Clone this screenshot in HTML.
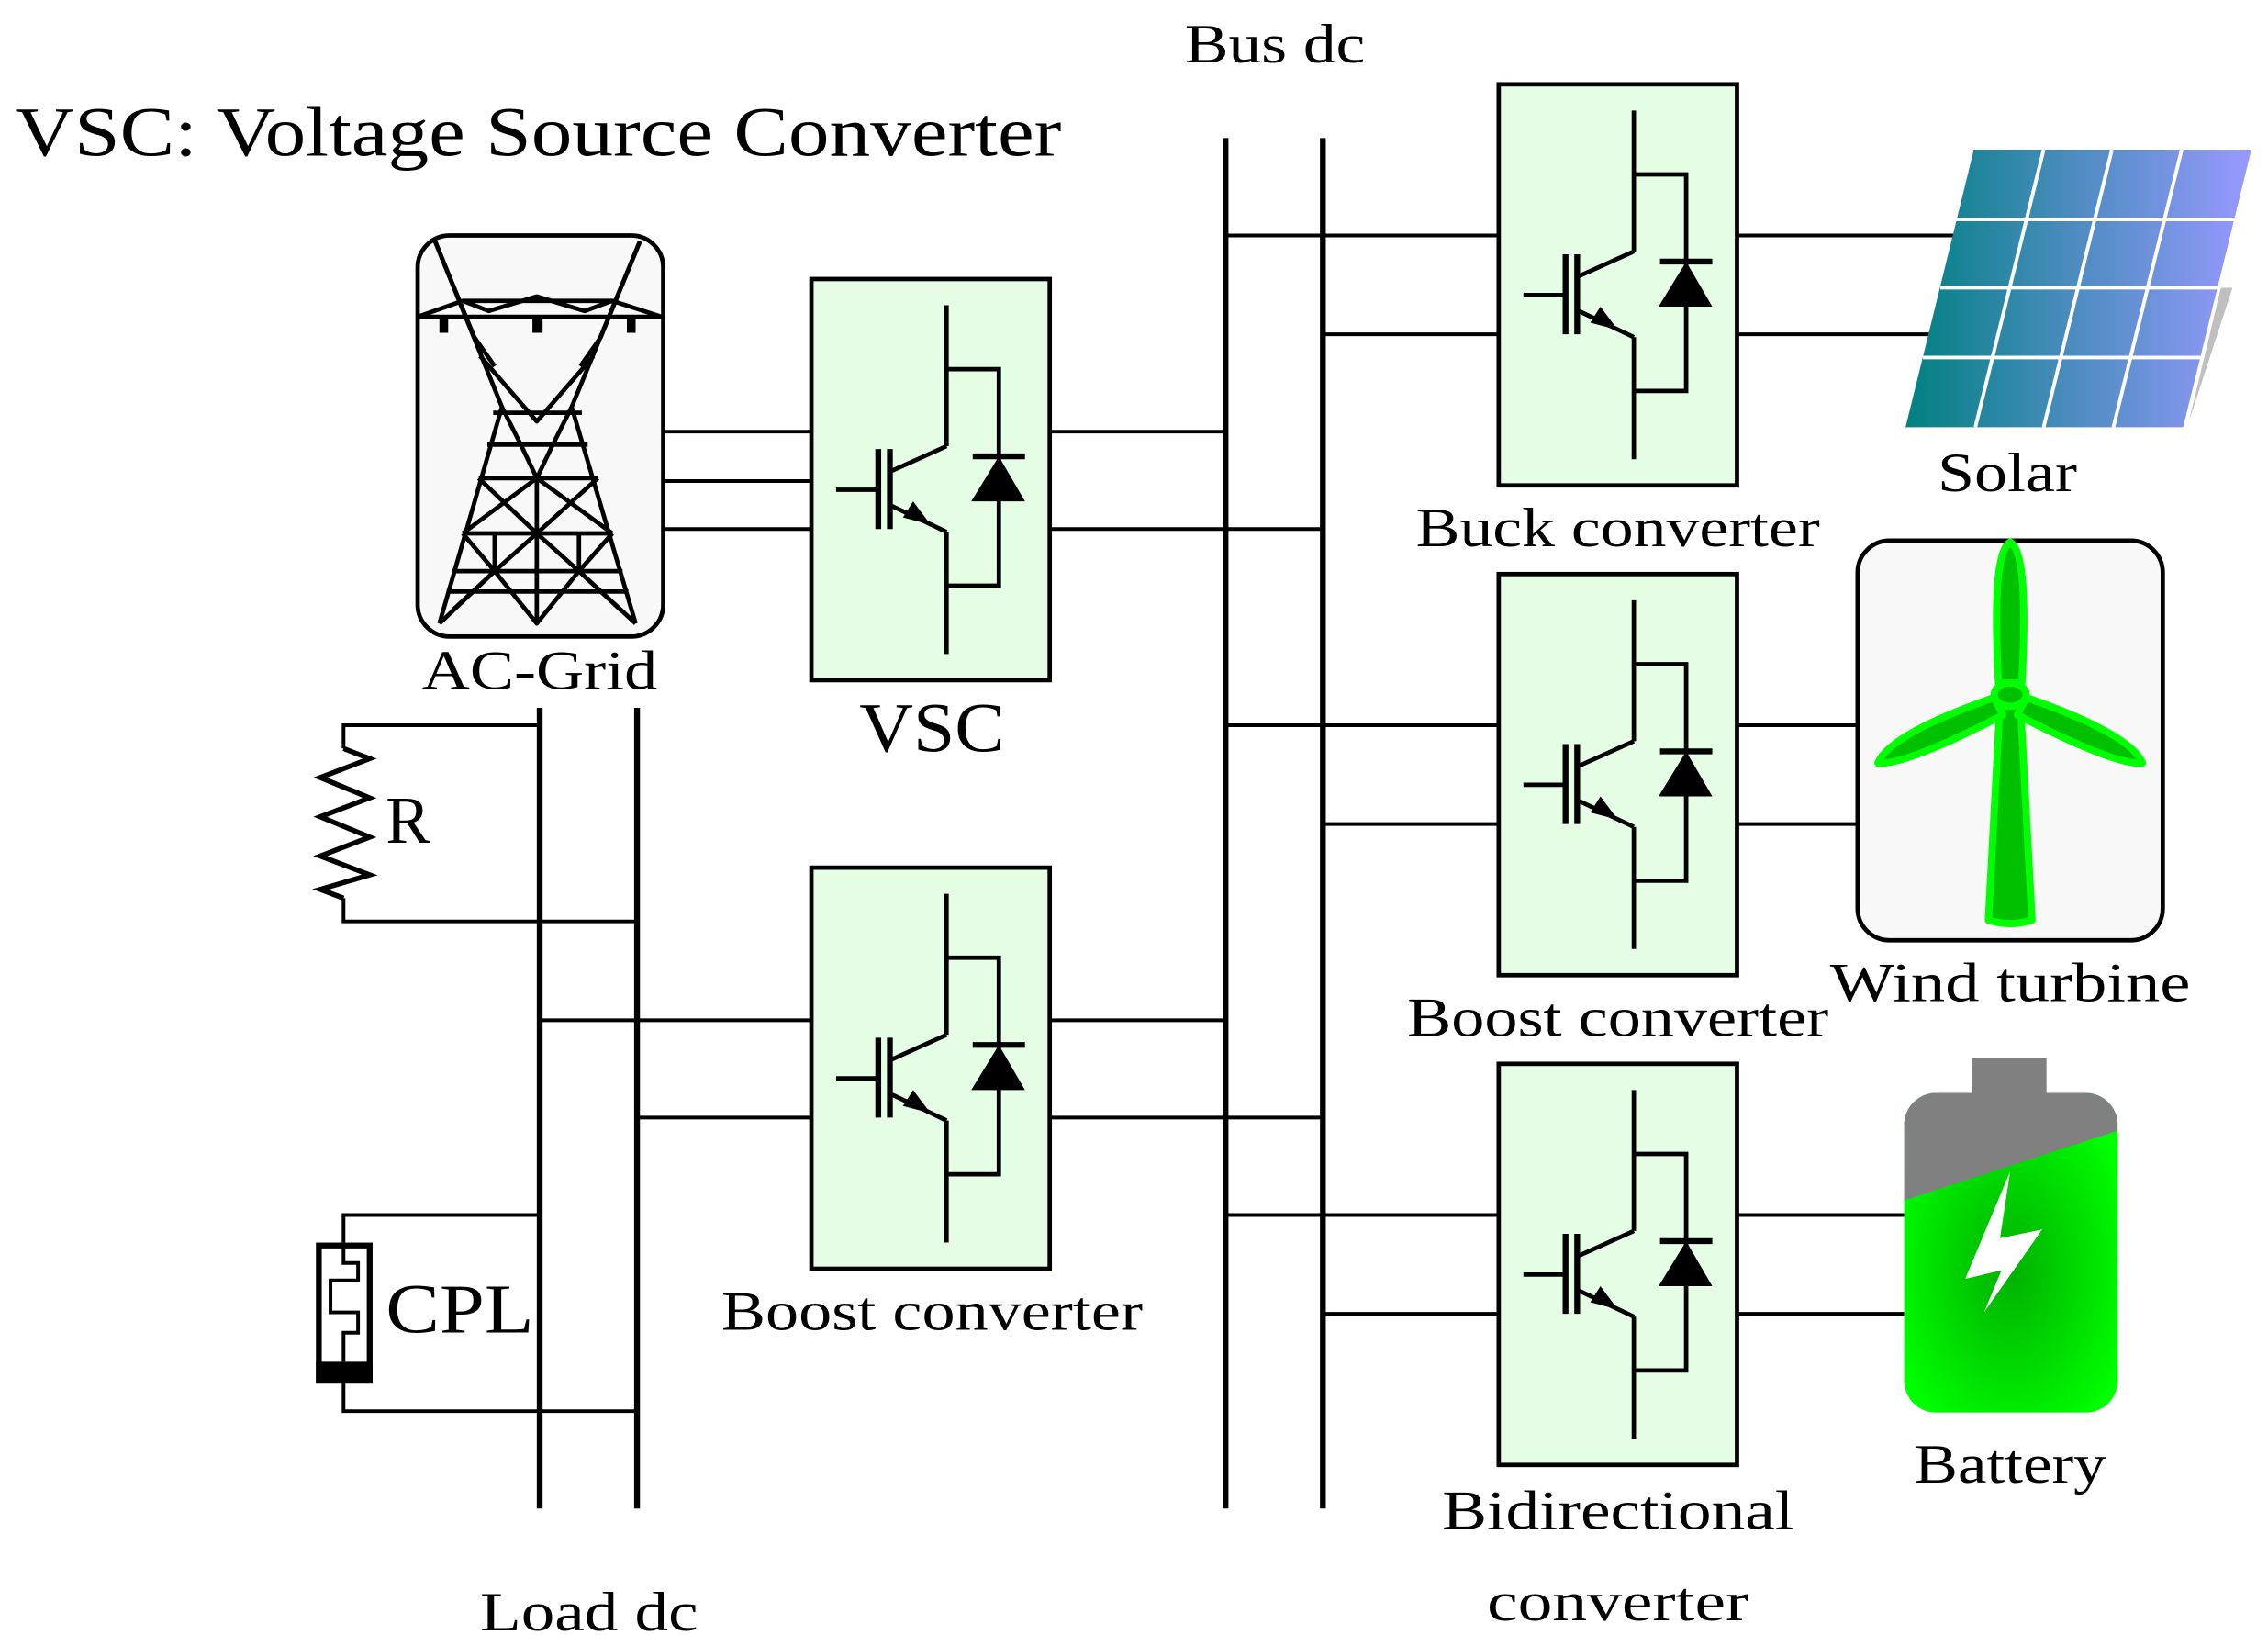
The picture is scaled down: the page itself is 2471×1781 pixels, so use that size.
<!DOCTYPE html>
<html><head><meta charset="utf-8"><style>html,body{margin:0;padding:0;background:#fff}svg{display:block}</style></head>
<body>
<svg xmlns="http://www.w3.org/2000/svg" width="2471" height="1781" viewBox="0 0 1560 1125" font-family="'Liberation Serif', serif">
<defs>
<g id="conv">
<rect x="0" y="0" width="164" height="276" fill="#e4fde4" stroke="#000" stroke-width="3"/>
<g stroke="#000" stroke-width="3" fill="none">
<path d="M93 18 V115 M93 62 H129 V211 H93 M93 174 V258 M53 133 L93 115 M53 155 L93 174 M17 145 H45"/>
<path d="M111 122 H147" stroke-width="4"/>
<path d="M46 117 V172 M54 117 V172" stroke-width="4"/>
</g>
<polygon points="82,169 63,164 70,153" fill="#000"/>
<polygon points="110,153 147,153 129,122" fill="#000"/>
</g>
<linearGradient id="sol" x1="0" x2="1" y1="0" y2="0"><stop offset="0" stop-color="#008080"/><stop offset="0.4" stop-color="#3f8ab5"/><stop offset="1" stop-color="#9999ff"/></linearGradient>
<radialGradient id="bat" cx="0.5" cy="0.55" r="0.6"><stop offset="0" stop-color="#00b000"/><stop offset="1" stop-color="#00ff00"/></radialGradient>
<clipPath id="batclip"><rect x="1310" y="752" width="147" height="220" rx="22"/></clipPath>
</defs>

<g font-size="38" fill="#000">
<text x="10" y="107" font-size="48" textLength="720" lengthAdjust="spacingAndGlyphs">VSC: Voltage Source Converter</text>
<text x="877" y="43" text-anchor="middle" textLength="124" lengthAdjust="spacingAndGlyphs">Bus dc</text>
<text x="371" y="474" text-anchor="middle" textLength="162" lengthAdjust="spacingAndGlyphs">AC-Grid</text>
<text x="641" y="517" font-size="48" text-anchor="middle" textLength="100" lengthAdjust="spacingAndGlyphs">VSC</text>
<text x="1113" y="376" text-anchor="middle" textLength="278" lengthAdjust="spacingAndGlyphs">Buck converter</text>
<text x="1381" y="338" text-anchor="middle" textLength="96" lengthAdjust="spacingAndGlyphs">Solar</text>
<text x="1113" y="713" text-anchor="middle" textLength="290" lengthAdjust="spacingAndGlyphs">Boost converter</text>
<text x="1383" y="689" text-anchor="middle" textLength="248" lengthAdjust="spacingAndGlyphs">Wind turbine</text>
<text x="641" y="915" text-anchor="middle" textLength="290" lengthAdjust="spacingAndGlyphs">Boost converter</text>
<text x="1383" y="1020" text-anchor="middle" textLength="132" lengthAdjust="spacingAndGlyphs">Battery</text>
<text x="1113" y="1052" text-anchor="middle" textLength="242" lengthAdjust="spacingAndGlyphs">Bidirectional</text>
<text x="1113" y="1115" text-anchor="middle" textLength="180" lengthAdjust="spacingAndGlyphs">converter</text>
<text x="405" y="1122" text-anchor="middle" textLength="150" lengthAdjust="spacingAndGlyphs">Load dc</text>
<text x="265" y="580" font-size="46">R</text>
<text x="265" y="917" font-size="48" textLength="102" lengthAdjust="spacingAndGlyphs">CPL</text>
</g>

<!-- wires -->
<g stroke="#000" stroke-width="2.5" fill="none">
<path d="M456 297 H558 M456 331 H558 M456 364 H558"/>
<path d="M722 297 H843 M722 364 H910"/>
<path d="M843 162 H1031 M910 230 H1031 M1195 162 H1348 M1195 230 H1330"/>
<path d="M843 499 H1031 M910 567 H1031 M1195 499 H1278 M1195 567 H1278"/>
<path d="M843 836 H1031 M910 904 H1031 M1195 836 H1310 M1195 904 H1310"/>
<path d="M371 702 H558 M438 769 H558 M722 702 H843 M722 769 H910"/>
<path d="M371 499 H236 V515 M236 618 V634 H438"/>
<path d="M371 836 H236 V855 M236 952 V971 H438"/>
</g>
<!-- buses -->
<g stroke="#000" stroke-width="4">
<path d="M843 95 V1038 M910 95 V1038 M371 487 V1038 M438 487 V1038"/>
</g>

<!-- resistor -->
<polyline points="236,515 254,522 220,535 254,549 220,562 254,576 220,589 254,602 220,612 236,618" fill="none" stroke="#000" stroke-width="3.5"/>
<!-- CPL -->
<rect x="219" y="857" width="35" height="93" fill="#fff" stroke="#000" stroke-width="4"/>
<rect x="217" y="937" width="39" height="15" fill="#000"/>
<polyline points="236,857 236,869 246,869 246,881 227,881 227,903 246,903 246,917 236,917 236,937" fill="none" stroke="#000" stroke-width="2.5"/>

<!-- converters -->
<use href="#conv" x="558" y="192"/>
<use href="#conv" x="558" y="597"/>
<use href="#conv" x="1031" y="58"/>
<use href="#conv" x="1031" y="395"/>
<use href="#conv" x="1031" y="732"/>

<!-- AC grid -->
<rect x="287" y="162" width="169" height="276" rx="22" fill="#f8f8f8" stroke="#000" stroke-width="3"/>
<g stroke="#000" stroke-width="3" fill="none" stroke-linejoin="round">
<path d="M287 218 H455"/>
<polyline points="287,218 318,207 336,214 369,204 402,214 421,207 455,218"/>
<path d="M318 207 H421"/>
<polyline points="299,166 345,280 302,429"/>
<polyline points="440,166 393,280 437,429"/>
<path d="M299 166 L326 232 L340 252 M440 166 L413 232 L399 252"/>
<path d="M330 245 L369 290 L408 245 M345 280 L358 306 L369 329 L380 306 L393 280"/>
<path d="M339 284 H400 M335 306 H404 M329 329 H411 M318 367 H421 M311 393 H428 M307 407 H432"/>
<path d="M329 329 L369 367 L411 329 M318 367 L369 329 L421 367"/>
<path d="M369 329 V429"/>
<path d="M318 367 L340 393 L369 429 L398 393 L421 367 M340 367 V393 M398 367 V393"/>
<path d="M369 367 L340 393 L311 420 M369 367 L398 393 L427 420"/>
<path d="M302 429 L340 393 M437 429 L398 393"/>
</g>
<g fill="#000"><rect x="302" y="218" width="6" height="11"/><rect x="366" y="218" width="7" height="11"/><rect x="431" y="218" width="6" height="11"/></g>

<!-- solar -->
<polygon points="1528,198 1536,198 1506,290" fill="#bfbfbf"/>
<polygon points="1358,103 1549,103 1502,294 1311,294" fill="url(#sol)"/>
<g stroke="#fff" stroke-width="2.5">
<path d="M1346 151 H1538 M1335 198 H1527 M1323 246 H1514"/>
<path d="M1406 103 L1359 294 M1453 103 L1406 294 M1501 103 L1454 294"/>
</g>

<!-- wind -->
<rect x="1278" y="372" width="210" height="275" rx="22" fill="#f8f8f8" stroke="#000" stroke-width="3"/>
<g fill="#00c000" stroke="#00ff00" stroke-width="5" stroke-linejoin="round">
<path d="M1376 484 L1368 633 Q1383 638 1398 633 L1390 484 Z"/>
<path d="M1375 470 Q1370 380 1383 373 Q1396 380 1391 470 Z"/>
<path d="M1372 480 Q1300 505 1292 525 Q1310 527 1378 492 Z"/>
<path d="M1394 480 Q1466 505 1474 525 Q1456 527 1388 492 Z"/>
<ellipse cx="1383" cy="478" rx="11" ry="8"/>
</g>

<!-- battery -->
<rect x="1357" y="728" width="51" height="26" fill="#808080"/>
<g clip-path="url(#batclip)">
<rect x="1310" y="752" width="147" height="220" fill="url(#bat)"/>
<polygon points="1310,752 1457,752 1457,778 1310,826" fill="#808080"/>
</g>
<polygon points="1383,806 1352,880 1377,874 1365,903 1405,846 1376,852" fill="#fff"/>
</svg>
</body></html>
